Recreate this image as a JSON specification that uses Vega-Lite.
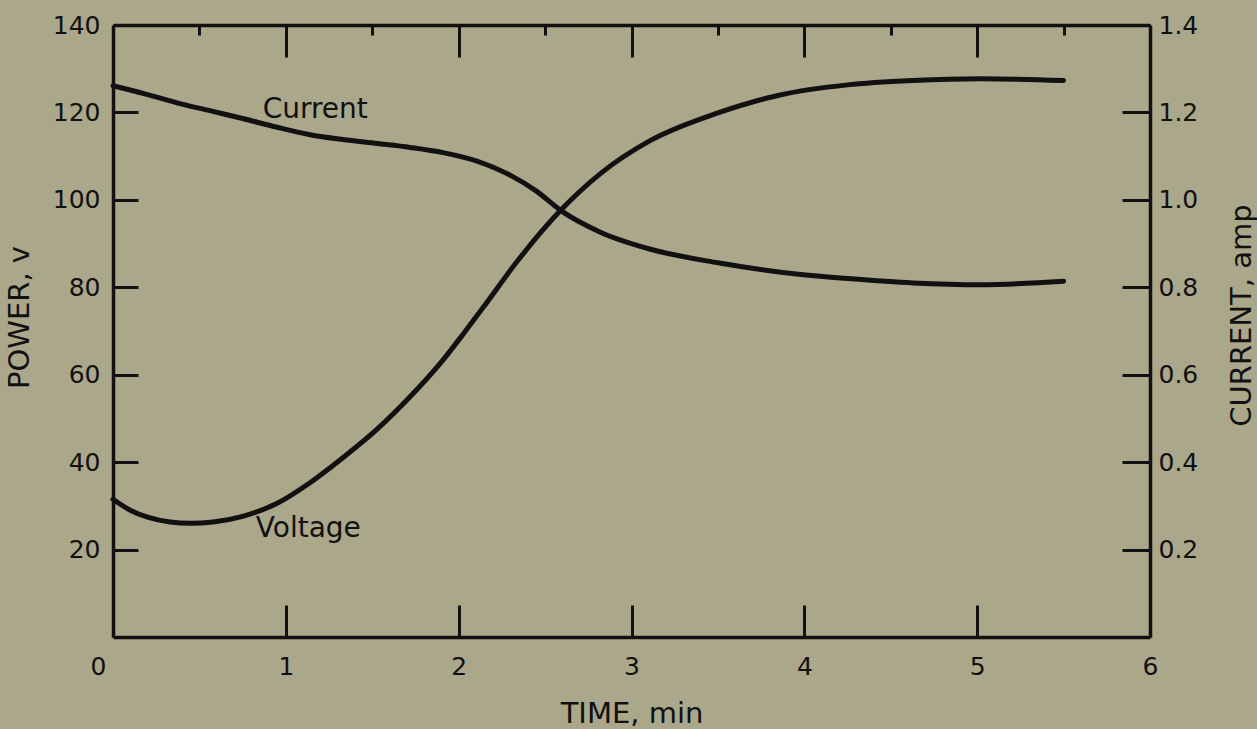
{
  "$schema": "https://vega.github.io/schema/vega-lite/v6.json",
  "autosize": {"type": "none"},
  "width": 1037,
  "height": 612,
  "padding": {"left": 113, "top": 25, "right": 107, "bottom": 92},
  "background": "#aba78a",
  "config": {
    "view": {"stroke": null},
    "axis": {
      "grid": false,
      "domainColor": "#111111",
      "domainWidth": 3.5,
      "tickColor": "#111111",
      "tickWidth": 3,
      "labelColor": "#111111",
      "titleColor": "#111111",
      "labelFont": "DejaVu Sans",
      "titleFont": "DejaVu Sans",
      "labelFontSize": 25,
      "titleFontSize": 29,
      "titleFontWeight": "normal"
    }
  },
  "datasets": {
    "curves": [
      {"series": "Voltage", "t": 0, "value": 31.5},
      {"series": "Voltage", "t": 0.1, "value": 29.0},
      {"series": "Voltage", "t": 0.2, "value": 27.4},
      {"series": "Voltage", "t": 0.33, "value": 26.3},
      {"series": "Voltage", "t": 0.45, "value": 26.0},
      {"series": "Voltage", "t": 0.58, "value": 26.3},
      {"series": "Voltage", "t": 0.75, "value": 27.6},
      {"series": "Voltage", "t": 0.95, "value": 30.6},
      {"series": "Voltage", "t": 1.14, "value": 35.3},
      {"series": "Voltage", "t": 1.33, "value": 41.0},
      {"series": "Voltage", "t": 1.53, "value": 47.6},
      {"series": "Voltage", "t": 1.72, "value": 55.0},
      {"series": "Voltage", "t": 1.91, "value": 63.4},
      {"series": "Voltage", "t": 2.03, "value": 69.5},
      {"series": "Voltage", "t": 2.14, "value": 75.3},
      {"series": "Voltage", "t": 2.34, "value": 86.0},
      {"series": "Voltage", "t": 2.59, "value": 97.6},
      {"series": "Voltage", "t": 2.82, "value": 106.0},
      {"series": "Voltage", "t": 3.11, "value": 113.6},
      {"series": "Voltage", "t": 3.5, "value": 119.9},
      {"series": "Voltage", "t": 3.86, "value": 124.0},
      {"series": "Voltage", "t": 4.25, "value": 126.3},
      {"series": "Voltage", "t": 4.63, "value": 127.3},
      {"series": "Voltage", "t": 5.02, "value": 127.7},
      {"series": "Voltage", "t": 5.5, "value": 127.3},
      {"series": "Current", "t": 0, "value": 1.261},
      {"series": "Current", "t": 0.19, "value": 1.242},
      {"series": "Current", "t": 0.37, "value": 1.222},
      {"series": "Current", "t": 0.56, "value": 1.204},
      {"series": "Current", "t": 0.75, "value": 1.186},
      {"series": "Current", "t": 0.95, "value": 1.166},
      {"series": "Current", "t": 1.14, "value": 1.149},
      {"series": "Current", "t": 1.33, "value": 1.138},
      {"series": "Current", "t": 1.53, "value": 1.129},
      {"series": "Current", "t": 1.72, "value": 1.12},
      {"series": "Current", "t": 1.91, "value": 1.108},
      {"series": "Current", "t": 2.11, "value": 1.088},
      {"series": "Current", "t": 2.3, "value": 1.056},
      {"series": "Current", "t": 2.45, "value": 1.02},
      {"series": "Current", "t": 2.59, "value": 0.976},
      {"series": "Current", "t": 2.82, "value": 0.926},
      {"series": "Current", "t": 3.11, "value": 0.887},
      {"series": "Current", "t": 3.5, "value": 0.856},
      {"series": "Current", "t": 3.98, "value": 0.829},
      {"series": "Current", "t": 4.25, "value": 0.82},
      {"series": "Current", "t": 4.63, "value": 0.81},
      {"series": "Current", "t": 5.02, "value": 0.806},
      {"series": "Current", "t": 5.5, "value": 0.814}
    ],
    "labels": [
      {"label": "Current", "t": 1.17, "value": 120.6},
      {"label": "Voltage", "t": 1.13, "value": 24.6}
    ]
  },
  "layer": [
    {
      "data": {"name": "curves"},
      "transform": [{"filter": "datum.series === 'Voltage'"}],
      "mark": {"type": "line", "color": "#111111", "strokeWidth": 5, "interpolate": "monotone", "strokeCap": "round"},
      "encoding": {
        "x": {
          "field": "t", "type": "quantitative",
          "scale": {"domain": [0, 6], "nice": false},
          "axis": {
            "orient": "bottom",
            "values": [0, 0.5, 1, 1.5, 2, 2.5, 3, 3.5, 4, 4.5, 5, 5.5, 6],
            "format": "d",
            "labelExpr": "datum.value % 1 === 0 ? datum.label : ''",
            "tickSize": {"condition": {"test": "datum.value % 1 === 0", "value": -32}, "value": -12},
            "labelPadding": 49,
            "labelOffset": {"condition": {"test": "datum.value === 0", "value": -15}, "value": 0},
            "labelFlush": false,
            "labelOverlap": false,
            "title": "TIME, min",
            "titleBaseline": "top",
            "titleY": 62
          }
        },
        "y": {
          "field": "value", "type": "quantitative",
          "scale": {"domain": [0, 140], "nice": false},
          "axis": {
            "orient": "left",
            "values": [20, 40, 60, 80, 100, 120, 140],
            "tickSize": -25,
            "labelPadding": 38,
            "labelFlush": false,
            "labelOverlap": false,
            "title": "POWER, v",
            "titleAngle": -90,
            "titleBaseline": "alphabetic",
            "titleX": -85,
            "titleY": 292
          }
        }
      }
    },
    {
      "data": {"name": "curves"},
      "transform": [{"filter": "datum.series === 'Current'"}],
      "mark": {"type": "line", "color": "#111111", "strokeWidth": 5, "interpolate": "monotone", "strokeCap": "round"},
      "encoding": {
        "x": {
          "field": "t", "type": "quantitative",
          "axis": {
            "orient": "top",
            "values": [0.5, 1, 1.5, 2, 2.5, 3, 3.5, 4, 4.5, 5, 5.5],
            "labels": false,
            "tickSize": {"condition": {"test": "datum.value % 1 === 0", "value": -32}, "value": -10},
            "title": null
          }
        },
        "y": {
          "field": "value", "type": "quantitative",
          "scale": {"domain": [0, 1.4], "nice": false},
          "axis": {
            "orient": "right",
            "values": [0.2, 0.4, 0.6, 0.8, 1.0, 1.2, 1.4],
            "format": ".1f",
            "tickSize": -28,
            "labelPadding": 36,
            "labelFlush": false,
            "labelOverlap": false,
            "title": "CURRENT, amp",
            "titleAngle": -90,
            "titleBaseline": "alphabetic",
            "titleX": 100,
            "titleY": 290
          }
        }
      }
    },
    {
      "data": {"name": "labels"},
      "mark": {"type": "text", "font": "DejaVu Sans", "fontSize": 28, "color": "#111111", "align": "center", "baseline": "middle"},
      "encoding": {
        "x": {"field": "t", "type": "quantitative", "axis": null},
        "y": {"field": "value", "type": "quantitative", "scale": {"domain": [0, 140], "nice": false}, "axis": null},
        "text": {"field": "label"}
      }
    }
  ],
  "resolve": {"scale": {"y": "independent"}, "axis": {"x": "independent", "y": "independent"}}
}
